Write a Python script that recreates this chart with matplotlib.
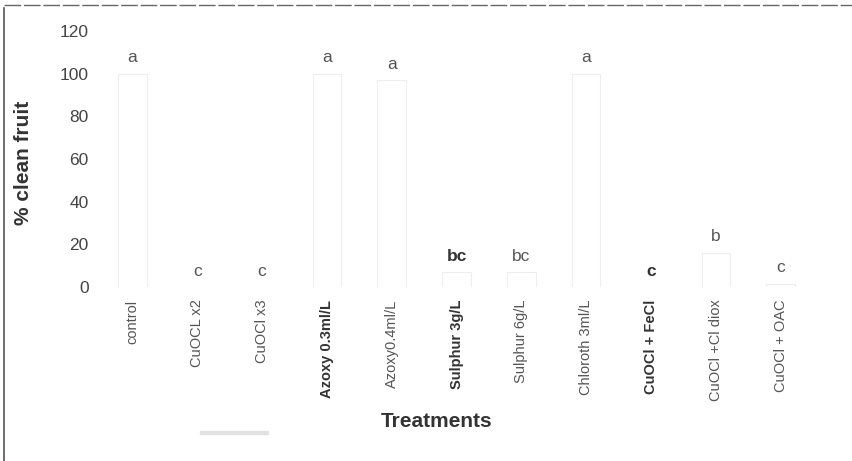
import matplotlib.pyplot as plt
import numpy as np
from matplotlib.lines import Line2D
from matplotlib.patches import Rectangle

# Treatments and % clean fruit (bars are nearly washed out in the scan)
treatments = ['control', 'CuOCL x2', 'CuOCl x3', 'Azoxy 0.3ml/L', 'Azoxy0.4ml/L',
              'Sulphur 3g/L', 'Sulphur 6g/L', 'Chloroth 3ml/L', 'CuOCl + FeCl',
              'CuOCl +Cl diox', 'CuOCl + OAC']
clean = [100, 0, 0, 100, 97, 7, 7, 100, 0, 16, 1.5]
letters = ['a', 'c', 'c', 'a', 'a', 'bc', 'bc', 'a', 'c', 'b', 'c']
bold_labels = ['Azoxy 0.3ml/L', 'Sulphur 3g/L', 'CuOCl + FeCl']

plt.rcParams['font.family'] = ['Liberation Sans', 'DejaVu Sans']

fig = plt.figure(figsize=(8.53, 4.61), dpi=100)
ax = fig.add_axes([0.1172, 0.3774, 0.836, 0.5553])

x = np.arange(len(treatments))
ax.bar(x, clean, 0.44, color='white', edgecolor='#eeeeee', linewidth=0.8)

for xi, v, lab in zip(x, clean, letters):
    heavy = treatments[xi] in ('Sulphur 3g/L', 'CuOCl + FeCl')
    ax.text(xi, v + 7.5, lab, ha='center', va='center', fontsize=12.5,
            color='#333333' if heavy else '#555555',
            fontweight='bold' if heavy else 'normal')

ax.set_xlim(-0.5, len(treatments) - 0.5)
ax.set_ylim(0, 120)
ax.set_yticks(np.arange(0, 121, 20))
ax.set_xticks(x)
ax.set_xticklabels(treatments, rotation=90, fontsize=10.5, color='#555555')
for t in ax.get_xticklabels():
    if t.get_text() in bold_labels:
        t.set_fontweight('bold')
        t.set_color('#333333')
ax.tick_params(axis='y', length=0, pad=8, labelsize=12.5, labelcolor='#444444')
ax.tick_params(axis='x', length=0, pad=9)
for s in ax.spines.values():
    s.set_visible(False)

ax.set_ylabel('% clean fruit', fontsize=15, fontweight='bold', color='#333333')
ax.yaxis.set_label_coords(-0.094, 0.485)
fig.text(437 / 853, 1 - 421 / 461, 'Treatments', ha='center', va='center',
         fontsize=15, fontweight='bold', color='#333333')

# scan border remnants
fig.add_artist(Line2D([4 / 853, 4 / 853], [0, 1 - 8 / 461], color='#555555', lw=1.2))
fig.add_artist(Line2D([4 / 853, 1], [1 - 5 / 461, 1 - 5 / 461], color='#666666', lw=1.0,
                      linestyle=(0, (12, 2))))
fig.add_artist(Rectangle((200 / 853, 1 - 434 / 461), 68 / 853, 3 / 461,
                         transform=fig.transFigure, color='#e2e2e2'))

fig.savefig('out.png', dpi=100)
